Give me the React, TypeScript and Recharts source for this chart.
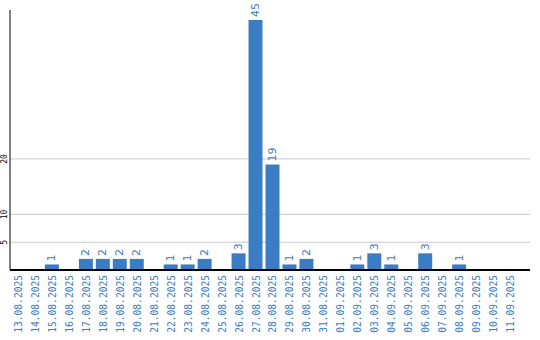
import { BarChart, Bar, XAxis, YAxis, ReferenceLine, LabelList } from 'recharts'

const dates = [
  '13.08.2025', '14.08.2025', '15.08.2025', '16.08.2025', '17.08.2025', '18.08.2025',
  '19.08.2025', '20.08.2025', '21.08.2025', '22.08.2025', '23.08.2025', '24.08.2025',
  '25.08.2025', '26.08.2025', '27.08.2025', '28.08.2025', '29.08.2025', '30.08.2025',
  '31.08.2025', '01.09.2025', '02.09.2025', '03.09.2025', '04.09.2025', '05.09.2025',
  '06.09.2025', '07.09.2025', '08.09.2025', '09.09.2025', '10.09.2025', '11.09.2025',
]
const counts = [
  0, 0, 1, 0, 2, 2,
  2, 2, 0, 1, 1, 2,
  0, 3, 45, 19, 1, 2,
  0, 0, 1, 3, 1, 0,
  3, 0, 1, 0, 0, 0,
]
const yTicks = [5, 10, 20]

const BLUE = '#3b7dc4'

const data = dates.map((d, i) => ({ date: d, count: counts[i] }))

const XTick = ({ x, payload }: any) => (
  <text
    x={x}
    y={275}
    transform={`rotate(-90 ${x} 275)`}
    textAnchor="end"
    dominantBaseline="central"
    fill={BLUE}
    fontSize={9.6}
    fontFamily="DejaVu Sans Mono, monospace"
  >
    {payload.value}
  </text>
)

const YTick = ({ y, payload }: any) => (
  <text
    x={5}
    y={y}
    transform={`rotate(-90 5 ${y})`}
    textAnchor="middle"
    dominantBaseline="central"
    fill="#000"
    fontSize={8}
    fontFamily="DejaVu Sans Mono, monospace"
  >
    {payload.value}
  </text>
)

const ValueLabel = (props: any) => {
  const { x, y, width, value } = props
  if (!value) return null
  const cx = x + width / 2
  const cy = y - 3
  return (
    <text
      x={cx}
      y={cy}
      transform={`rotate(-90 ${cx} ${cy})`}
      textAnchor="start"
      dominantBaseline="central"
      fill={BLUE}
      fontSize={11}
      fontFamily="DejaVu Sans, sans-serif"
    >
      {value}
    </text>
  )
}

export default function App() {
  return (
    <div style={{ position: 'absolute', left: 0, top: 0, width: 540, height: 340, background: '#fff' }}>
      <BarChart
        width={540}
        height={340}
        data={data}
        margin={{ top: 10, right: 10, bottom: 0, left: 0 }}
        barCategoryGap={3}
      >
        {yTicks.map((t) => (
          <ReferenceLine key={t} y={t} stroke="#c8c8c8" strokeWidth={1} {...({ zIndex: -50 } as any)} />
        ))}
        <XAxis
          dataKey="date"
          interval={0}
          height={70}
          padding={{ left: 0, right: 11 }}
          tickLine={false}
          axisLine={{ stroke: '#000', strokeWidth: 2 }}
          tick={<XTick />}
        />
        <YAxis
          width={10}
          domain={[0, 46.8]}
          ticks={yTicks}
          tickLine={false}
          axisLine={{ stroke: '#000', strokeWidth: 1 }}
          tick={<YTick />}
          allowDataOverflow
        />
        <Bar dataKey="count" fill={BLUE} barSize={14} isAnimationActive={false}>
          <LabelList dataKey="count" content={<ValueLabel />} />
        </Bar>
      </BarChart>
    </div>
  )
}
